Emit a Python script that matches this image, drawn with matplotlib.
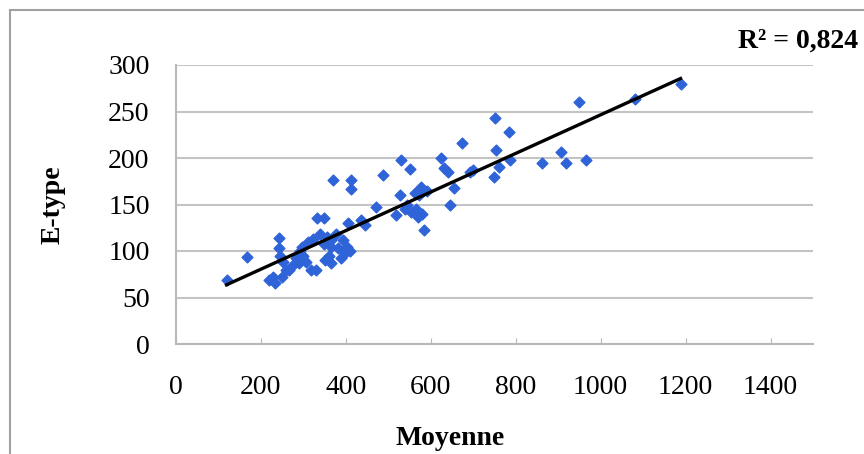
import numpy as np
import matplotlib
matplotlib.use("Agg")
import matplotlib.pyplot as plt
from matplotlib.patches import Rectangle

# Données (moyenne, écart-type)
moyenne = [119, 168, 219, 228, 232, 243, 243, 246, 250, 252, 258, 266, 275, 283,
           289, 292, 296, 300, 305, 312, 318, 322, 329, 333, 340, 348, 348, 352,
           356, 360, 364, 366, 366, 370, 376, 382, 388, 394, 399, 402, 406, 410,
           413, 413, 436, 445, 471, 488, 518, 527, 530, 540, 545, 550, 553, 562,
           566, 569, 572, 576, 580, 585, 590, 623, 632, 640, 646, 655, 674, 693,
           700, 749, 751, 754, 760, 784, 786, 861, 907, 919, 950, 966, 1080, 1188]
ecart_type = [69, 94, 69, 72, 66, 114, 103, 95, 72, 88, 80, 80, 85, 92,
              87, 100, 104, 95, 88, 110, 80, 113, 80, 135, 118, 135, 108, 90,
              115, 95, 112, 87, 104, 176, 118, 103, 92, 112, 98, 104, 130, 100,
              176, 167, 133, 128, 147, 182, 139, 160, 198, 145, 150, 188, 142, 162,
              145, 137, 160, 169, 140, 123, 165, 200, 189, 185, 149, 168, 216, 185,
              187, 180, 243, 209, 190, 228, 198, 195, 206, 195, 260, 198, 263, 280]
ticks_x = [0, 200, 400, 600, 800, 1000, 1200, 1400]
ticks_y = [0, 50, 100, 150, 200, 250, 300]

serif = ["Liberation Serif", "DejaVu Serif"]

fig = plt.figure(figsize=(8.64, 4.54), dpi=100)
# cadre gris du graphique
fig.patches.append(Rectangle((10 / 864, -0.05), 1.2, 1 - 10 / 454 + 0.05,
                             transform=fig.transFigure, fill=False,
                             edgecolor="#a0a0a0", linewidth=1.5))

ax = fig.add_axes([176 / 864, 1 - 344 / 454, (813 - 176) / 864, (344 - 65) / 454])

ax.scatter(moyenne, ecart_type, marker="D", s=30, color="#2f63d8", zorder=3)

# droite de tendance linéaire
pente, origine = np.polyfit(moyenne, ecart_type, 1)
xs = np.array([min(moyenne), max(moyenne)])
ax.plot(xs, pente * xs + origine, color="black", linewidth=2.4, zorder=4)

ax.set_xlim(0, 1500)
ax.set_ylim(0, 300)
ax.set_xticks(ticks_x)
ax.set_yticks(ticks_y)
ax.yaxis.grid(True, color="#c4c4c4", linewidth=1.5)
ax.set_axisbelow(True)
for s in ["top", "right"]:
    ax.spines[s].set_visible(False)
for s in ["left", "bottom"]:
    ax.spines[s].set_color("#b8b8b8")
    ax.spines[s].set_linewidth(1.5)

ax.tick_params(axis="x", direction="in", length=4, color="#b8b8b8", pad=22)
ax.tick_params(axis="y", length=0, pad=19)
for lab in ax.get_xticklabels() + ax.get_yticklabels():
    lab.set_family(serif)
    lab.set_fontsize(20)

ax.set_xlabel("Moyenne", family=serif, fontsize=20, fontweight="bold")
ax.set_ylabel("E-type", family=serif, fontsize=20, fontweight="bold")
ax.xaxis.set_label_coords((450 - 176) / 637, -(426 - 344) / 279)
ax.yaxis.set_label_coords(-(176 - 66) / 637, 0.5)

fig.text(738 / 864, 1 - 41 / 454, "R² = 0,824", family=serif, fontsize=20,
         fontweight="bold", va="center", ha="left")

fig.savefig("out.png", dpi=100)
